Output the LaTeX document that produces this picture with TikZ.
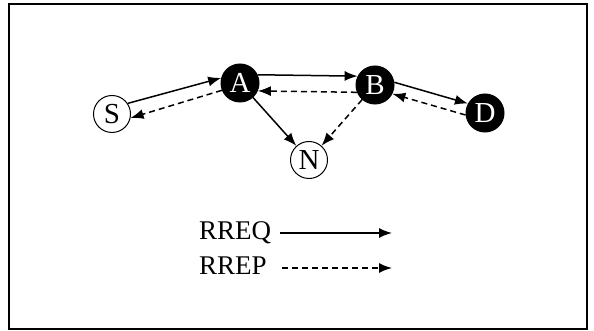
\documentclass[tikz,border=0pt]{standalone}
\usepackage{fontspec}
\setmainfont{Liberation Serif}
\usetikzlibrary{arrows.meta}
\begin{document}
\begin{tikzpicture}[x=1pt,y=-1pt,
  every node/.style={font=\fontsize{27}{30}\selectfont},
  wnode/.style={circle,draw,line width=1pt,minimum size=37pt,inner sep=0pt,fill=white,text=black,font=\fontsize{29}{30}\selectfont},
  bnode/.style={circle,draw,line width=1pt,minimum size=38pt,inner sep=0pt,fill=black,text=white,font=\fontsize{29}{30}\selectfont},
  req/.style={line width=1.5pt,-{Latex[length=13pt,width=10pt]}},
  rep/.style={line width=1.5pt,dash pattern=on 6pt off 4pt,-{Latex[length=13pt,width=10pt]}},
  lbl/.style={anchor=west,inner sep=0pt}]
\useasboundingbox (0,0) rectangle (594,331);
\draw[line width=1.3pt] (9,4) rectangle (587,329);
\node[wnode] (S) at (112,114) {S};
\node[bnode] (A) at (240,83) {A};
\node[bnode] (B) at (375,85) {B};
\node[bnode] (D) at (485,113) {D};
\node[wnode] (N) at (309,160) {N};
\draw[req] (S.34) -- (A.165);
\draw[rep] (A.202) -- (S.-12);
\draw[req] (A.25) -- (B.153);
\draw[rep] (B.202) -- (A.-24);
\draw[req] (A) -- (N);
\draw[rep] (B) -- (N);
\draw[req] (B.8) -- (D.151);
\draw[rep] (D.186) -- (B.-27);
\node[lbl] (lq) at (199,233) {RREQ};
\node[lbl] (lp) at (199,266) {RREP};
\coordinate (q1) at (280,233);
\coordinate (q2) at (392,233);
\coordinate (p1) at (282,268);
\coordinate (p2) at (392,268);
\draw[req] (q1) -- (q2);
\draw[rep] (p1) -- (p2);
\end{tikzpicture}
\end{document}
